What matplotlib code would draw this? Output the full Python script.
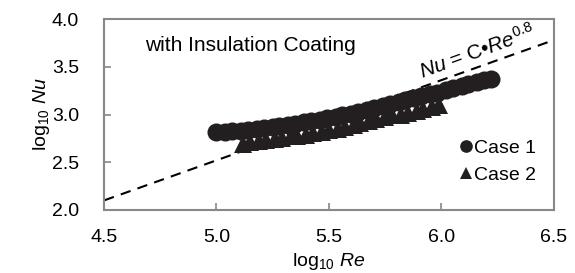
import matplotlib.pyplot as plt

plt.rcParams['font.family'] = ['Liberation Sans', 'DejaVu Sans']
plt.rcParams['mathtext.fontset'] = 'custom'
plt.rcParams['mathtext.rm'] = 'Liberation Sans'
plt.rcParams['mathtext.it'] = 'Liberation Sans:italic'

# Case 1 (circles)
re1 = [5.00, 5.04, 5.07, 5.11, 5.14, 5.18, 5.21, 5.25, 5.28, 5.32, 5.35, 5.39,
       5.42, 5.46, 5.49, 5.53, 5.56, 5.60, 5.63, 5.67, 5.70, 5.74, 5.77, 5.81,
       5.84, 5.88, 5.91, 5.95, 5.98, 6.02, 6.05, 6.09, 6.12, 6.16, 6.19, 6.22]
nu1 = [2.82, 2.82, 2.83, 2.83, 2.84, 2.85, 2.86, 2.87, 2.88, 2.89, 2.90, 2.92,
       2.93, 2.94, 2.96, 2.97, 2.99, 3.01, 3.03, 3.05, 3.07, 3.09, 3.11, 3.13,
       3.15, 3.17, 3.19, 3.21, 3.23, 3.26, 3.28, 3.30, 3.32, 3.34, 3.36, 3.37]

# Case 2 (triangles)
re2 = [5.12, 5.15, 5.19, 5.22, 5.26, 5.29, 5.33, 5.36, 5.40, 5.43, 5.47, 5.50,
       5.54, 5.57, 5.61, 5.64, 5.68, 5.71, 5.75, 5.78, 5.82, 5.85, 5.89, 5.92,
       5.96, 5.99]
nu2 = [2.69, 2.71, 2.72, 2.73, 2.74, 2.75, 2.77, 2.78, 2.79, 2.81, 2.82, 2.84,
       2.85, 2.87, 2.89, 2.91, 2.93, 2.95, 2.97, 2.99, 3.00, 3.02, 3.04, 3.06,
       3.08, 3.10]

# Nu = C*Re^0.8 reference line
fit_x = [4.5, 6.5]
fit_y = [2.10, 3.78]

fig = plt.figure(figsize=(5.75, 2.73), dpi=100)
ax = fig.add_axes([0.181, 0.231, 0.782, 0.699])

ax.plot(fit_x, fit_y, color='black', lw=1.5, ls=(0, (5, 3.5)), zorder=1)
ax.plot(re1, nu1, 'o', color='#231f20', ms=13, mew=0, label='Case 1', zorder=2)
ax.plot(re2, nu2, '^', color='#231f20', ms=13, mew=0, label='Case 2', zorder=3)

ax.set_xlim(4.5, 6.5)
ax.set_ylim(2.0, 4.0)
ax.set_xticks([4.5, 5.0, 5.5, 6.0, 6.5])
ax.set_yticks([2.0, 2.5, 3.0, 3.5, 4.0])
ax.set_xticklabels(['4.5', '5.0', '5.5', '6.0', '6.5'])
ax.set_yticklabels(['2.0', '2.5', '3.0', '3.5', '4.0'])
ax.tick_params(direction='in', length=5, width=1.2, color='#888888',
               labelsize=14)
ax.tick_params(axis='x', pad=14)
ax.tick_params(axis='y', pad=18)
for s in ax.spines.values():
    s.set_color('#888888')
    s.set_linewidth(1.5)

ax.set_xlabel(r'log$_{10}$ $\mathit{Re}$', fontsize=14, labelpad=3)
ax.set_ylabel(r'log$_{10}$ $\mathit{Nu}$', fontsize=14, labelpad=0)

ax.text(4.68, 3.72, 'with Insulation Coating', fontsize=15, va='center')
ax.text(6.16, 3.66, r'$\mathit{Nu}$ = C•$\mathit{Re}^{0.8}$', fontsize=15,
        rotation=20, ha='center', va='center', rotation_mode='anchor')

ax.legend(loc='lower right', bbox_to_anchor=(1.0, 0.045), frameon=False,
          fontsize=14, markerscale=0.7, handlelength=0.6, handletextpad=0.1,
          labelspacing=0.5, borderaxespad=0.5)

fig.savefig('out.png', dpi=100)
